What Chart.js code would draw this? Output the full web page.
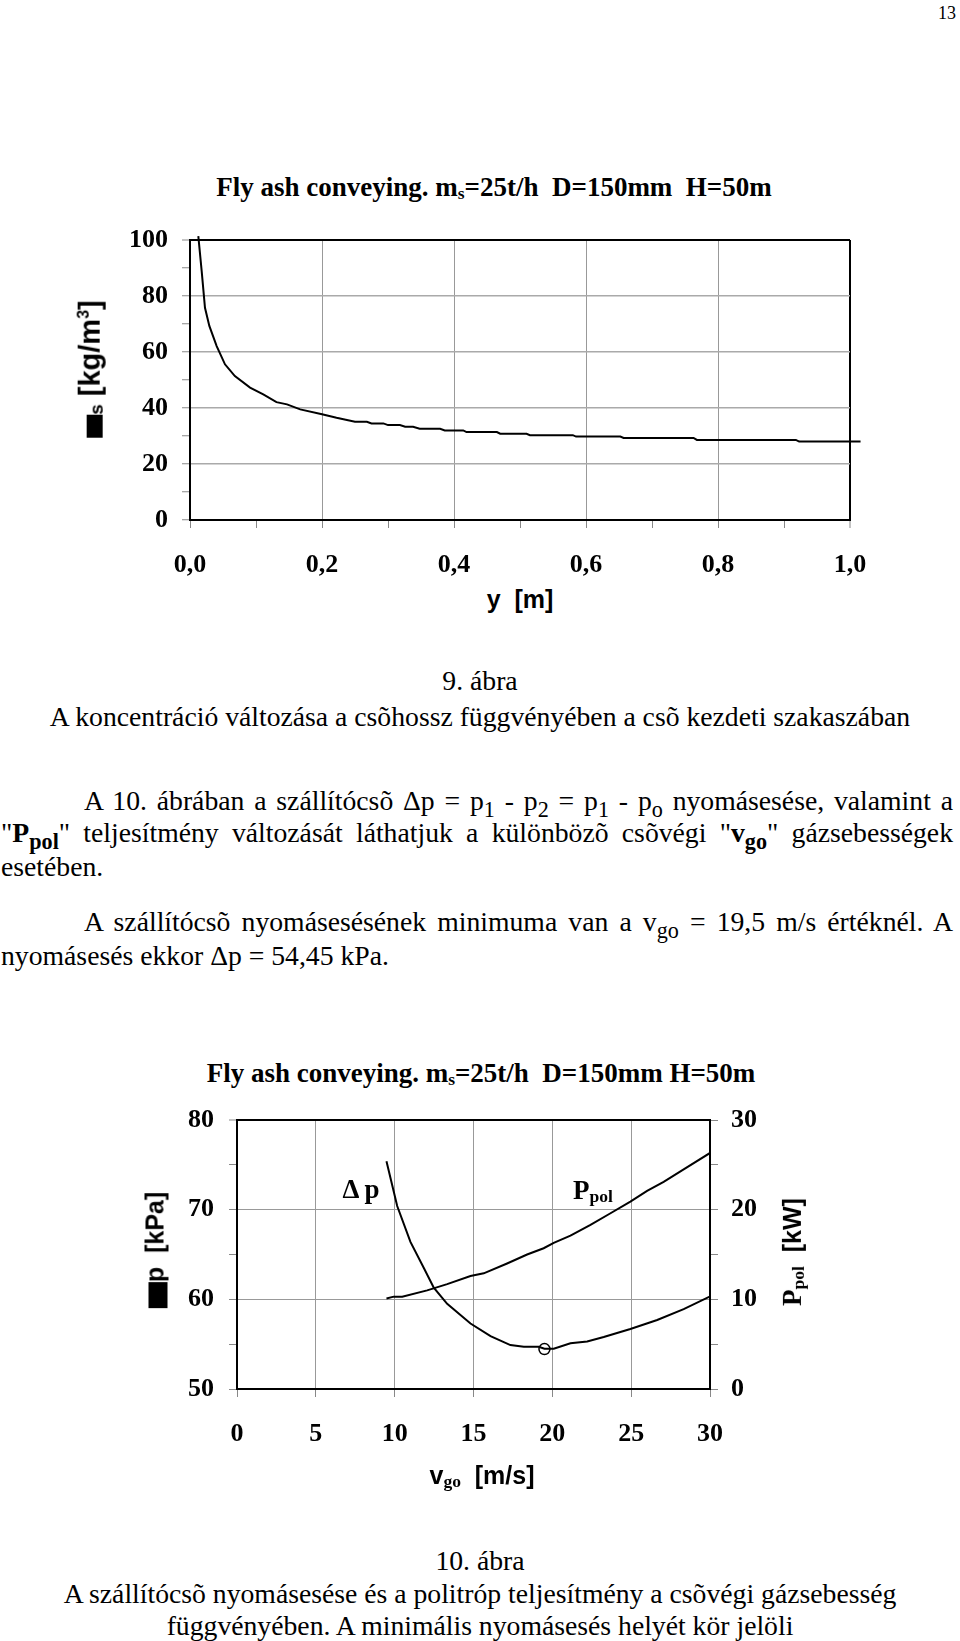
<!DOCTYPE html>
<html>
<head>
<meta charset="utf-8">
<script src="https://cdn.jsdelivr.net/npm/chart.js@4.4.1/dist/chart.umd.min.js"></script>
<style>
    html, body { margin: 0; padding: 0; background: #fff; }
    body { width: 960px; height: 1641px; position: relative; overflow: hidden; font-family: 'Liberation Serif', 'Times New Roman', serif; color: #000; }
    canvas { position: absolute; }
    .abs { position: absolute; white-space: nowrap; line-height: 1; }
    .c { transform: translate(-50%, -50%); }
    .rot { transform: translate(-50%, -50%) rotate(-90deg); }
    .ttl { font-weight: bold; font-size: 27px; }
    .sans { font-family: 'Liberation Sans', Arial, sans-serif; font-weight: bold; font-size: 25px; }
    .sb { font-size: 0.65em; vertical-align: -0.15em; }
    .line { position: absolute; font-size: 27.7px; line-height: 27px; text-align: justify; text-align-last: justify; }
    .left { text-align: left; text-align-last: left; }
    .cap { position: absolute; left: 0; width: 960px; text-align: center; font-size: 27.7px; line-height: 27px; }
    .ls { font-size: 0.8em; vertical-align: -0.3em; }
    .blk { display: inline-block; width: 23px; height: 16px; background: #000; vertical-align: -3px; }
</style>
</head>
<body>

<div class="abs" style="right:4px; top:4px; font-size:18px;">13</div>

<!-- 9. ábra -->
<canvas id="concChart" width="780" height="360" style="left:100px; top:220px;"></canvas>
<div class="abs c ttl" style="left:494px; top:188px;">Fly ash conveying. m<span class="sb">s</span>=25t/h&nbsp; D=150mm&nbsp; H=50m</div>
<div class="abs rot sans" style="left:91px; top:369px; font-size:29px;"><span class="blk"></span><span class="sb">s</span> [kg/m<sup style="font-size:0.55em">3</sup>]</div>
<div class="abs c sans" style="left:520px; top:599px;">y&nbsp; [m]</div>

<div class="cap" style="top:667px;">9. ábra</div>
<div class="cap" style="top:703px;">A koncentráció változása a csõhossz függvényében a csõ kezdeti szakaszában</div>

<div class="line" style="left:84px; width:869px; top:787px;">A 10. ábrában a szállítócsõ Δp = p<span class="ls">1</span> - p<span class="ls">2</span> = p<span class="ls">1</span> - p<span class="ls">o</span> nyomásesése, valamint a</div>
<div class="line" style="left:1px; width:952px; top:819px;">"<b>P<span class="ls">pol</span></b>" teljesítmény változását láthatjuk a különbözõ csõvégi "<b>v<span class="ls">go</span></b>" gázsebességek</div>
<div class="line left" style="left:1px; width:952px; top:853px;">esetében.</div>
<div class="line" style="left:84px; width:869px; top:908px;">A szállítócsõ nyomásesésének minimuma van a v<span class="ls">go</span> = 19,5 m/s értéknél. A</div>
<div class="line left" style="left:1px; width:952px; top:942px;">nyomásesés ekkor Δp = 54,45 kPa.</div>

<!-- 10. ábra -->
<canvas id="dpChart" width="680" height="380" style="left:140px; top:1090px;"></canvas>
<div class="abs c ttl" style="left:481px; top:1074px;">Fly ash conveying. m<span class="sb">s</span>=25t/h&nbsp; D=150mm H=50m</div>
<div class="abs rot sans" style="left:155px; top:1250px;"><span class="blk" style="width:26px; height:19px; vertical-align:-4px;"></span>p&nbsp; [kPa]</div>
<div class="abs rot" style="left:793px; top:1252px;"><span class="ttl">P<span class="sb">pol</span></span><span class="sans">&nbsp; [kW]</span></div>
<div class="abs c" style="left:482px; top:1476px;"><span class="sans">v</span><span class="ttl"><span class="sb">go</span></span><span class="sans">&nbsp; [m/s]</span></div>
<div class="abs c ttl" style="left:361px; top:1189px;">Δ p</div>
<div class="abs c ttl" style="left:593px; top:1191px;">P<span class="sb">pol</span></div>

<div class="cap" style="top:1547px;">10. ábra</div>
<div class="cap" style="top:1580px;">A szállítócsõ nyomásesése és a politróp teljesítmény a csõvégi gázsebesség</div>
<div class="cap" style="top:1612px;">függvényében. A minimális nyomásesés helyét kör jelöli</div>

<script>
// 9. ábra: concentration vs pipe length
const concY = [0.0126, 0.0177, 0.0227, 0.0293, 0.0404, 0.053, 0.068, 0.091, 0.111, 0.131, 0.147, 0.167, 0.2, 0.222, 0.25, 0.268, 0.275, 0.293, 0.3, 0.318, 0.326, 0.338, 0.348, 0.379, 0.386, 0.414, 0.419, 0.465, 0.47, 0.51, 0.515, 0.58, 0.585, 0.652, 0.657, 0.763, 0.768, 0.918, 0.923, 1.016]
const concRho = [101.4, 88.9, 75.8, 69.3, 62.1, 55.6, 51.4, 47.3, 44.9, 42.1, 41.3, 39.5, 37.8, 36.5, 35.1, 35.1, 34.5, 34.5, 33.9, 33.9, 33.3, 33.3, 32.6, 32.6, 32.0, 32.0, 31.4, 31.4, 30.8, 30.8, 30.3, 30.3, 29.8, 29.8, 29.3, 29.3, 28.6, 28.6, 28.0, 28.0]
const concXLabels = ["0,0", "0,2", "0,4", "0,6", "0,8", "1,0"]
const concYLabels = ["0", "20", "40", "60", "80", "100"]

// 10. ábra: pressure drop and polytropic power vs gas velocity
const dpVgo = [9.48, 10.16, 11.0, 11.85, 12.48, 13.33, 14.81, 16.08, 17.34, 18.19, 19.14, 19.5, 20.09, 21.15, 22.21, 23.26, 24.95, 26.65, 28.33, 29.98]
const dpKpa = [75.4, 70.4, 66.4, 63.5, 61.3, 59.5, 57.3, 55.9, 54.9, 54.7, 54.7, 54.5, 54.5, 55.1, 55.3, 55.8, 56.7, 57.7, 58.9, 60.3]
const polVgo = [9.48, 9.94, 10.48, 12.06, 13.33, 14.81, 15.65, 17.13, 18.4, 19.45, 20.09, 21.15, 22.42, 23.69, 24.95, 26.01, 27.06, 28.33, 29.98]
const polKw = [10.1, 10.3, 10.3, 11.0, 11.7, 12.6, 12.9, 14.0, 15.0, 15.7, 16.3, 17.1, 18.3, 19.6, 20.9, 22.1, 23.1, 24.5, 26.3]
const minVgo = [19.5]
const minDp = [54.45]
const velLabels = ["0", "5", "10", "15", "20", "25", "30"]
const dpLabels = ["50", "60", "70", "80"]
const polLabels = ["0", "10", "20", "30"]

const SERIF = "'Liberation Serif', 'Times New Roman', serif"
const tickFont = { family: SERIF, size: 26, weight: "bold" }
const NONE = "rgba(0,0,0,0)"

Chart.defaults.color = "#000"
Chart.defaults.font.family = SERIF

function points(xs, ys) {
    return xs.map((x, i) => ({ x: x, y: ys[i] }))
}

// fixed axis sizes, labels may overflow into the margins
function fixX(h) {
    return (s) => { s.height = h; s.paddingLeft = 0; s.paddingRight = 0 }
}
function fixY(w) {
    return (s) => { s.width = w; s.paddingTop = 0; s.paddingBottom = 0 }
}

function baseOptions(padding) {
    return {
        animation: false,
        responsive: false,
        devicePixelRatio: 1,
        layout: { padding: padding },
        plugins: { legend: { display: false }, tooltip: { enabled: false } },
        elements: { line: { tension: 0 } }
    }
}

// ---- 9. ábra ----
const concOpts = baseOptions({ left: 0, right: 30, top: 20, bottom: 0 })
concOpts.scales = {
    x: {
        type: "linear", min: 0, max: 1,
        ticks: {
            stepSize: 0.1, autoSkip: false, maxRotation: 0, padding: 22, font: tickFont,
            callback: (v) => {
                const i = Math.round(v * 10)
                return i % 2 ? "" : concXLabels[i / 2]
            }
        },
        grid: {
            color: (c) => {
                const i = Math.round(c.tick.value * 10)
                if (i === 10) return "#000"
                if (i === 0 || i % 2) return NONE
                return "#999"
            },
            lineWidth: (c) => Math.round(c.tick.value * 10) === 10 ? 2 : 1,
            tickColor: "#888", tickWidth: 1, tickLength: 8
        },
        border: { color: "#000", width: 2 },
        afterFit: fixX(60)
    },
    y: {
        min: 0, max: 100,
        ticks: {
            stepSize: 10, autoSkip: false, padding: 14, font: tickFont,
            callback: (v) => v % 20 ? "" : concYLabels[v / 20]
        },
        grid: {
            color: (c) => {
                const v = c.tick.value
                if (v === 100) return "#000"
                if (v === 0 || v % 20) return NONE
                return "#aaa"
            },
            lineWidth: (c) => c.tick.value === 100 ? 2 : 1.5,
            tickColor: "#888", tickWidth: 1, tickLength: 8
        },
        border: { color: "#000", width: 2 },
        afterFit: fixY(90)
    }
}

new Chart(document.getElementById("concChart"), {
    type: "line",
    data: {
        datasets: [{
            data: points(concY, concRho),
            borderColor: "#000",
            borderWidth: 2,
            pointRadius: 0,
            clip: false
        }]
    },
    options: concOpts
})

// ---- 10. ábra ----
const dpOpts = baseOptions({ left: 0, right: 0, top: 30, bottom: 21 })
dpOpts.scales = {
    x: {
        type: "linear", min: 0, max: 30,
        ticks: {
            stepSize: 5, autoSkip: false, maxRotation: 0, padding: 22, font: tickFont,
            callback: (v) => velLabels[v / 5]
        },
        grid: {
            color: (c) => (c.tick.value === 0 || c.tick.value === 30) ? NONE : "#999",
            lineWidth: 1,
            tickColor: "#888", tickWidth: 1, tickLength: 8
        },
        border: { color: "#000", width: 2 },
        afterFit: fixX(60)
    },
    y: {
        position: "left", min: 50, max: 80,
        ticks: {
            stepSize: 5, autoSkip: false, padding: 15, font: tickFont,
            callback: (v) => v % 10 ? "" : dpLabels[(v - 50) / 10]
        },
        grid: {
            color: (c) => {
                const v = c.tick.value
                if (v === 80) return "#000"
                if (v === 50 || v % 10) return NONE
                return "#999"
            },
            lineWidth: (c) => c.tick.value === 80 ? 2 : 1,
            tickColor: "#888", tickWidth: 1, tickLength: 8
        },
        border: { color: "#000", width: 2 },
        afterFit: fixY(97)
    },
    y1: {
        position: "right", min: 0, max: 30,
        ticks: {
            stepSize: 5, autoSkip: false, padding: 13, font: tickFont,
            callback: (v) => v % 10 ? "" : polLabels[v / 10]
        },
        grid: { drawOnChartArea: false, tickColor: "#888", tickWidth: 1, tickLength: 8 },
        border: { color: "#000", width: 2 },
        afterFit: fixY(110)
    }
}

new Chart(document.getElementById("dpChart"), {
    type: "line",
    data: {
        datasets: [
            {
                label: "Δp",
                data: points(dpVgo, dpKpa),
                yAxisID: "y",
                borderColor: "#000",
                borderWidth: 2,
                pointRadius: 0
            },
            {
                label: "Ppol",
                data: points(polVgo, polKw),
                yAxisID: "y1",
                borderColor: "#000",
                borderWidth: 2,
                pointRadius: 0
            },
            {
                label: "minimum",
                data: points(minVgo, minDp),
                yAxisID: "y",
                showLine: false,
                pointRadius: 5.5,
                pointBackgroundColor: "#fff",
                pointBorderColor: "#000",
                pointBorderWidth: 1.5
            }
        ]
    },
    options: dpOpts
})
</script>
</body>
</html>
